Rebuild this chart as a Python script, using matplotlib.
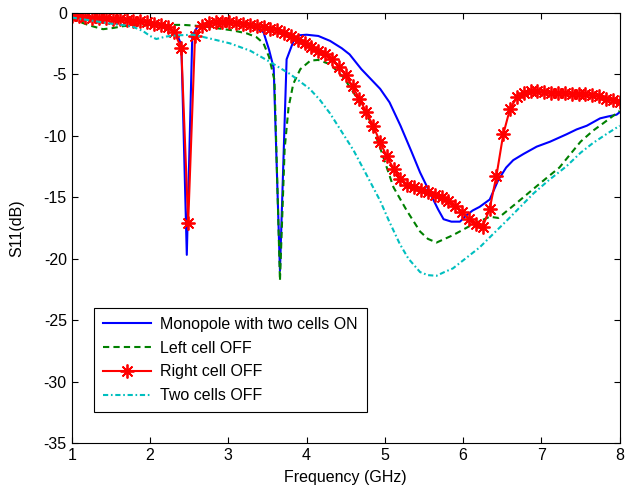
import numpy as np
import matplotlib.pyplot as plt

plt.rcParams['font.family'] = ['Liberation Sans', 'DejaVu Sans']
plt.rcParams['font.size'] = 11.5
plt.rcParams['axes.unicode_minus'] = False

# Monopole with two cells ON
freq_on = [1.0, 1.2, 1.4, 1.6, 1.8, 2.0, 2.2, 2.33, 2.40, 2.47, 2.54, 2.61, 2.75, 3.0, 3.2,
           3.35, 3.45, 3.52, 3.58, 3.66, 3.745, 3.84, 3.9, 4.0, 4.15, 4.3, 4.45, 4.55, 4.7,
           4.85, 4.94, 5.06, 5.2, 5.34, 5.45, 5.58, 5.68, 5.75, 5.85, 5.96, 6.04, 6.12, 6.21,
           6.34, 6.45, 6.55, 6.64, 6.77, 6.94, 7.11, 7.32, 7.45, 7.58, 7.75, 7.85, 7.96, 8.0]
s11_on = [-0.3, -0.35, -0.45, -0.55, -0.65, -0.8, -1.1, -1.6, -2.6, -19.7, -1.9, -1.1, -0.85,
          -0.8, -0.9, -1.2, -1.6, -3.0, -4.5, -21.0, -3.8, -2.2, -1.85, -1.8, -1.9, -2.3, -2.9,
          -3.4, -4.6, -5.6, -6.2, -7.3, -9.2, -11.3, -13.0, -14.7, -16.0, -16.8, -17.0, -17.0,
          -16.5, -16.1, -15.8, -15.2, -13.6, -12.6, -12.0, -11.5, -10.9, -10.5, -9.9, -9.5,
          -9.2, -8.6, -8.45, -8.3, -8.1]

# Left cell OFF
freq_left = [1.0, 1.1, 1.23, 1.4, 1.53, 1.66, 1.85, 2.05, 2.25, 2.42, 2.55, 2.72, 2.89, 3.06,
             3.24, 3.36, 3.45, 3.52, 3.59, 3.66, 3.72, 3.77, 3.83, 3.92, 4.05, 4.15, 4.3, 4.47,
             4.64, 4.81, 4.94, 5.11, 5.28, 5.45, 5.55, 5.66, 5.87, 6.13, 6.34, 6.45, 6.68, 6.98,
             7.23, 7.5, 7.66, 7.79, 8.0]
s11_left = [-0.5, -0.75, -1.05, -1.35, -1.25, -1.1, -1.0, -1.05, -1.0, -1.0, -1.05, -1.15,
            -1.3, -1.45, -1.7, -2.0, -2.5, -3.6, -5.5, -21.8, -11.1, -7.7, -5.8, -4.6, -3.9,
            -3.85, -4.2, -5.25, -6.9, -8.8, -11.0, -14.2, -16.1, -17.8, -18.4, -18.7, -18.1,
            -17.2, -16.6, -16.7, -15.5, -13.9, -12.6, -10.5, -9.6, -9.0, -8.0]

# Right cell OFF (sampled every 0.0875 GHz, one marker per sample)
freq_right = np.linspace(1, 8, 81)
s11_right = [-0.3, -0.3, -0.35, -0.4, -0.4, -0.45, -0.5, -0.55, -0.6, -0.65,
             -0.7, -0.8, -0.9, -1.0, -1.2, -1.6, -2.9, -17.1, -1.9, -1.1,
             -0.85, -0.8, -0.8, -0.8, -0.85, -0.9, -1.0, -1.1, -1.2, -1.3,
             -1.45, -1.65, -1.9, -2.2, -2.5, -2.8, -3.1, -3.4, -3.8, -4.4,
             -5.1, -6.0, -7.0, -8.1, -9.2, -10.5, -11.7, -12.7, -13.5, -14.0,
             -14.2, -14.4, -14.6, -14.8, -15.0, -15.3, -15.7, -16.2, -16.8, -17.2,
             -17.4, -16.0, -13.3, -9.9, -7.8, -6.9, -6.5, -6.4, -6.4, -6.45,
             -6.5, -6.5, -6.55, -6.6, -6.6, -6.65, -6.7, -6.8, -7.0, -7.1,
             -7.3]

# Two cells OFF
freq_off = [1.0, 1.2, 1.4, 1.55, 1.7, 1.8, 1.91, 2.0, 2.08, 2.2, 2.35, 2.55, 2.76, 3.02, 3.28,
            3.53, 3.79, 4.04, 4.17, 4.3, 4.47, 4.6, 4.75, 4.94, 5.05, 5.19, 5.3, 5.45, 5.55,
            5.66, 5.76, 5.87, 6.05, 6.21, 6.4, 6.56, 6.73, 6.9, 7.1, 7.32, 7.5, 7.66, 7.85, 8.0]
s11_off = [-0.4, -0.6, -0.8, -0.95, -1.05, -1.2, -1.5, -1.9, -2.15, -1.95, -1.85, -1.8, -2.1,
           -2.5, -3.1, -4.0, -5.0, -6.2, -7.1, -8.2, -9.9, -11.2, -13.0, -15.3, -16.9, -18.8,
           -20.0, -21.1, -21.35, -21.4, -21.1, -20.8, -19.9, -19.1, -17.9, -16.9, -15.8, -14.7,
           -13.6, -12.5, -11.4, -10.6, -9.8, -9.2]

labels = ["Monopole with two cells ON", "Left cell OFF", "Right cell OFF", "Two cells OFF"]

fig = plt.figure(figsize=(6.32, 4.88), dpi=100)
ax = fig.add_axes([0.1135, 0.0922, 0.867, 0.882])

ax.plot(freq_on, s11_on, color=(0, 0, 1), lw=1.5, label=labels[0])
ax.plot(freq_left, s11_left, color=(0, 0.5, 0), lw=1.5, linestyle=(0, (3, 2)), label=labels[1])
ax.plot(freq_right, s11_right, color=(1, 0, 0), lw=1.5, marker=(8, 2, 0), markersize=10,
        markeredgewidth=1.3, label=labels[2])
ax.plot(freq_off, s11_off, color=(0, 0.75, 0.75), lw=1.5, linestyle=(0, (2.5, 1.3, 0.8, 1.3)),
        label=labels[3])

ax.set_xlim(1, 8)
ax.set_ylim(-35, 0)
ax.set_xticks(range(1, 9))
ax.set_yticks(range(-35, 1, 5))
ax.tick_params(direction='in', top=True, right=True, length=4, width=0.8)
ax.set_xlabel("Frequency (GHz)", labelpad=5)
ax.set_ylabel("S11(dB)", labelpad=14)

leg = ax.legend(loc='lower left', bbox_to_anchor=(0.041, 0.072), borderaxespad=0,
                numpoints=1, handlelength=3.0, handletextpad=0.6, labelspacing=0.55,
                fancybox=False, framealpha=1, edgecolor='black', borderpad=0.55)
leg.get_frame().set_linewidth(0.8)

fig.savefig('out.png', dpi=100)
